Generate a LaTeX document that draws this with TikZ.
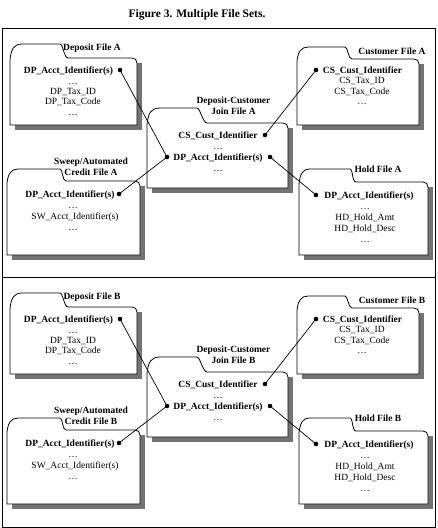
\documentclass[tikz,border=0pt]{standalone}
\usepackage{fontspec}
\setmainfont{Liberation Serif}
\tikzset{
  every node/.style={inner sep=0pt, font=\fontsize{9.5}{11}\selectfont},
  fld/.style={draw=black, line width=0.8pt, fill=white},
  shd/.style={fill=black!55},
  lbl/.style={anchor=base},
  blbl/.style={anchor=base, font=\fontsize{9.5}{11}\selectfont\bfseries},
  ttl/.style={anchor=base, font=\fontsize{9.5}{11}\selectfont\bfseries},
  dotnode/.style={circle, fill=black, minimum size=4.6pt, inner sep=0pt},
  link/.style={line width=0.7pt},
  frame/.style={line width=0.9pt}
}
% L T R B TabTop TabLeft TabRight1 TabRight2
\newcommand{\myfold}[8]{%
  \fill[shd] (#1+5,#2+5) rectangle (#3+5,#4+5);
  \draw[fld] (#1,#4) -- (#1,#2+2) .. controls (#1+1,#5+5) and (#1+4,#5) .. (#6,#5)
    -- (#7,#5) .. controls (#7+3,#5) and (#8-4,#2) .. (#8,#2)
    -- (#3-5,#2) .. controls (#3-2,#2) and (#3,#2+2) .. (#3,#2+5)
    -- (#3,#4) -- cycle;
}
\newcommand{\filepanel}[2]{%
\begin{scope}[shift={(0,#2)}]
  % folders
  \myfold{10}{58}{137}{125}{44}{22}{60}{68}
  \myfold{297}{59}{419}{125}{47}{308}{345}{352}
  \myfold{147}{123}{288}{188}{108}{160}{197}{207}
  \myfold{7}{181}{140}{255}{169}{18}{60}{66}
  \myfold{299}{182}{428}{255}{169}{309}{350}{356}
  % Deposit file
  \node[ttl] (tdep#1) at (92,50.5) {Deposit File #1};
  \node[blbl] (dep#1id) at (68.5,73) {DP\_Acct\_Identifier(s)};
  \node[dotnode] (ddep#1) at (120,70) {};
  \node[lbl] (dep#1a) at (73,84) {\ldots};
  \node[lbl] (dep#1b) at (73,94) {DP\_Tax\_ID};
  \node[lbl] (dep#1c) at (73,104.5) {DP\_Tax\_Code};
  \node[lbl] (dep#1d) at (73,115) {\ldots};
  % Customer file
  \node[ttl] (tcus#1) at (392,54.5) {Customer File #1};
  \node[dotnode] (dcus#1) at (316,70) {};
  \node[blbl] (cus#1id) at (362.5,73) {CS\_Cust\_Identifier};
  \node[lbl] (cus#1a) at (362,83.5) {CS\_Tax\_ID};
  \node[lbl] (cus#1b) at (362,94) {CS\_Tax\_Code};
  \node[lbl] (cus#1c) at (362,104.5) {\ldots};
  % Join file
  \node[ttl] (tjoin#1a) at (233.5,103.5) {Deposit-Customer};
  \node[ttl] (tjoin#1b) at (233.5,114.5) {Join File #1};
  \node[blbl] (join#1cs) at (218,138) {CS\_Cust\_Identifier};
  \node[dotnode] (djcs#1) at (265,135) {};
  \node[lbl] (join#1a) at (218,149) {\ldots};
  \node[blbl] (join#1dp) at (218,160) {DP\_Acct\_Identifier(s)};
  \node[dotnode] (djl#1) at (167,157) {};
  \node[dotnode] (djr#1) at (270,157) {};
  \node[lbl] (join#1b) at (218,171) {\ldots};
  % Sweep file
  \node[ttl] (tsw#1a) at (91,164) {Sweep/Automated};
  \node[ttl] (tsw#1b) at (91,175) {Credit File #1};
  \node[blbl] (sw#1id) at (70,197) {DP\_Acct\_Identifier(s)};
  \node[dotnode] (dsw#1) at (119,194) {};
  \node[lbl] (sw#1a) at (73,208) {\ldots};
  \node[lbl] (sw#1b) at (75,219.5) {SW\_Acct\_Identifier(s)};
  \node[lbl] (sw#1c) at (73,230) {\ldots};
  % Hold file
  \node[ttl] (thold#1) at (378,172.5) {Hold File #1};
  \node[dotnode] (dhold#1) at (316,195) {};
  \node[blbl] (hold#1id) at (369,198) {DP\_Acct\_Identifier(s)};
  \node[lbl] (hold#1a) at (365,209) {\ldots};
  \node[lbl] (hold#1b) at (365,220) {HD\_Hold\_Amt};
  \node[lbl] (hold#1c) at (365,231) {HD\_Hold\_Desc};
  \node[lbl] (hold#1d) at (365,242) {\ldots};
  % connectors
  \draw[link] (ddep#1.center) -- (djl#1.center);
  \draw[link] (dsw#1.center) -- (djl#1.center);
  \draw[link] (djcs#1.center) -- (dcus#1.center);
  \draw[link] (djr#1.center) -- (dhold#1.center);
\end{scope}
}
\begin{document}
\begin{tikzpicture}[x=1pt,y=-1pt]
  \useasboundingbox (0,0) rectangle (437,528);
  \node[font=\fontsize{11.5}{13}\selectfont\bfseries] (title) at (197,15) {Figure 3. Multiple File Sets.};
  \coordinate (fTL) at (2,28);
  \coordinate (fBR) at (435,527);
  \coordinate (divL) at (2,277);
  \coordinate (divR) at (435,277);
  \draw[frame] (fTL) rectangle (fBR);
  \draw[frame] (divL) -- (divR);
  \filepanel{A}{0}
  \filepanel{B}{249}
\end{tikzpicture}
\end{document}
